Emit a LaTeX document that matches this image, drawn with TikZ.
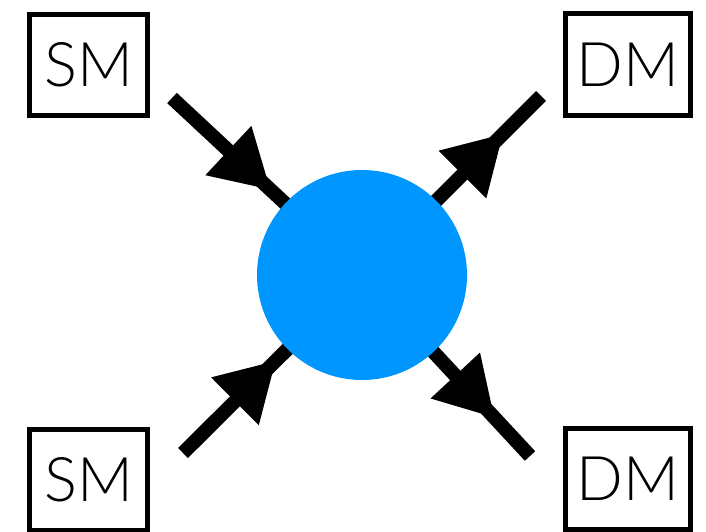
\documentclass[tikz,border=0pt]{standalone}
\usepackage{fontspec}
\newfontfamily\boxfont{Lato Light}
\usetikzlibrary{arrows.meta,decorations.markings}

\definecolor{blobblue}{RGB}{0,150,255}

\tikzset{
    particle/.style={draw,line width=2.6pt,minimum width=2.37cm,minimum height=2.03cm,
        inner sep=0pt,font=\boxfont\fontsize{35}{35}\selectfont},
    leg/.style={line width=8pt,postaction={decorate}},
    inflow/.style={leg,decoration={markings,
        mark=at position 0.52 with {\arrow{Triangle[length=33pt,width=36pt]}}}},
    outflow/.style={leg,decoration={markings,
        mark=at position 0.79 with {\arrow{Triangle[length=33pt,width=36pt]}}}}
}

\begin{document}
\begin{tikzpicture}
    \useasboundingbox (0,0) rectangle (14.12,10.62);
    %Particles
    \node[particle] (sm1) at (1.77,9.32) {SM};
    \node[particle] (sm2) at (1.77,1.02) {SM};
    \node[particle,minimum width=2.51cm] (dm1) at (12.56,9.33) {DM};
    \node[particle,minimum width=2.51cm] (dm2) at (12.56,1.04) {DM};
    %Leg ends
    \coordinate (a) at (3.44,8.66);
    \coordinate (b) at (3.66,1.56);
    \coordinate (c) at (10.82,8.70);
    \coordinate (d) at (10.60,1.50);
    \coordinate (hub) at (7.24,5.12);
    %Legs
    \draw[inflow] (a) -- (hub);
    \draw[inflow] (b) -- (hub);
    \draw[outflow] (hub) -- (c);
    \draw[outflow] (hub) -- (d);
    %Vertex
    \node[circle,fill=blobblue,minimum size=4.2cm,inner sep=0pt] (blob) at (hub) {};
\end{tikzpicture}
\end{document}
